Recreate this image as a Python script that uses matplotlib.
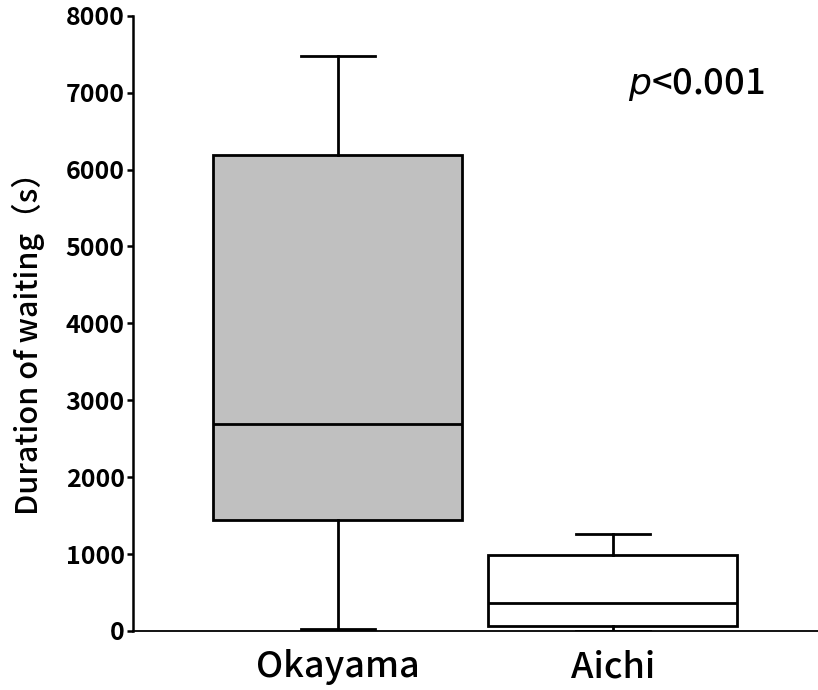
import matplotlib
matplotlib.use("Agg")
import matplotlib.pyplot as plt

plt.rcParams['font.family'] = ['Noto Sans CJK JP', 'DejaVu Sans']

groups = ["Okayama", "Aichi"]
whis_low = [25, 0]
q1 = [1440, 70]
medians = [2690, 364]
q3 = [6190, 989]
whis_high = [7480, 1260]
fills = ["#c0c0c0", "white"]

stats = []
for i in range(len(groups)):
    stats.append(dict(label=groups[i], whislo=whis_low[i], q1=q1[i], med=medians[i],
                      q3=q3[i], whishi=whis_high[i], fliers=[]))

fig = plt.figure(figsize=(8.18, 6.9), dpi=100)
ax = fig.add_axes([133/818, 1 - 631/690, 1 - 133/818, (631 - 15.7)/690])

bp = ax.bxp(stats, positions=[1, 2], widths=0.905, patch_artist=True,
            showfliers=False,
            boxprops=dict(linewidth=2.0, edgecolor="black"),
            medianprops=dict(linewidth=2.0, color="black"),
            whiskerprops=dict(linewidth=2.0, color="black"),
            capprops=dict(linewidth=2.0, color="black"),
            capwidths=0.27)
for patch, c in zip(bp["boxes"], fills):
    patch.set_facecolor(c)

ax.set_xlim(0.255, 2.746)
ax.set_ylim(0, 8000)
ax.set_yticks(range(0, 8001, 1000))
ax.spines["top"].set_visible(False)
ax.spines["right"].set_visible(False)
ax.spines["left"].set_linewidth(1.8)
ax.spines["bottom"].set_linewidth(1.3)
ax.tick_params(axis="y", length=4, width=1.8, labelsize=18, pad=2)
ax.tick_params(axis="x", length=0, labelsize=26, pad=13)
for lab in ax.get_yticklabels():
    lab.set_fontweight("bold")
for lab in ax.get_xticklabels():
    lab.set_fontweight("medium")

ax.set_ylabel("Duration of waiting（s）", fontsize=22, fontweight="medium")
ax.yaxis.set_label_coords(-0.128, 0.479)

ax.text(0.823, 0.888, r"$p$<0.001", transform=ax.transAxes, fontsize=26,
        ha="center", va="center", fontweight="medium")

fig.savefig("out.png", dpi=100)
